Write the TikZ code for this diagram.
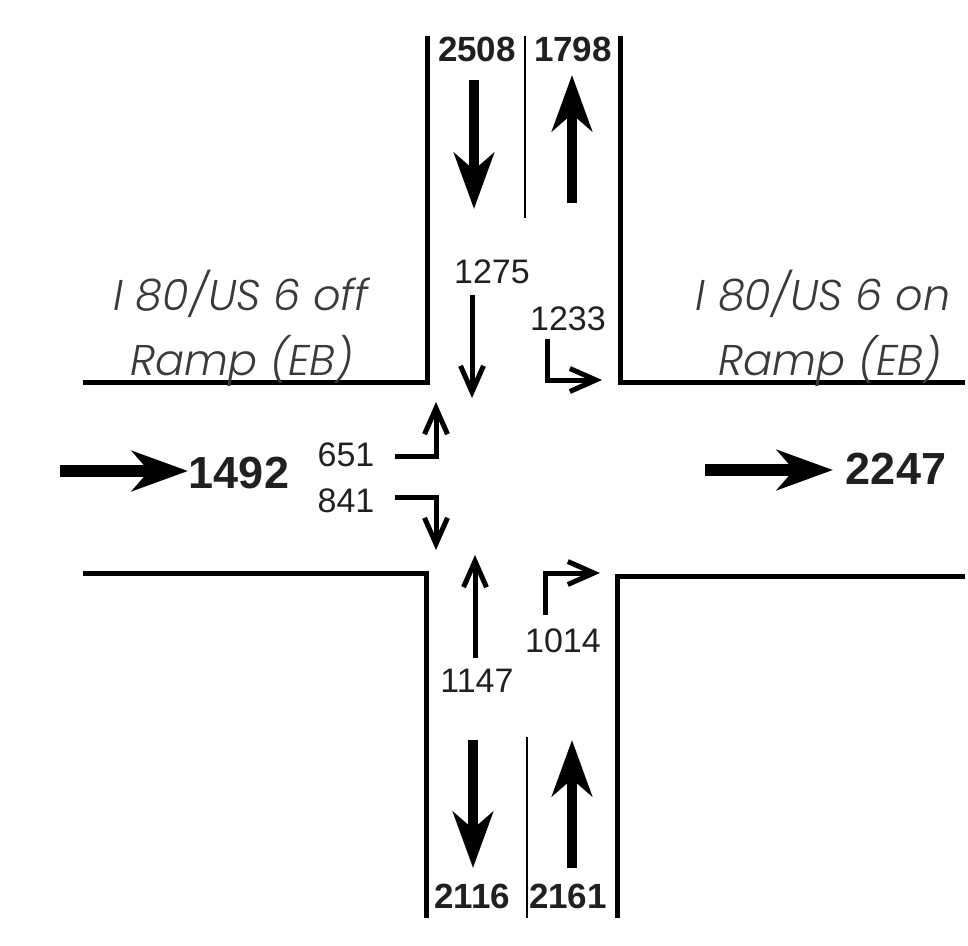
\documentclass[tikz,border=0pt]{standalone}
\usepackage{fontspec}
\setmainfont{Liberation Sans}
\newfontfamily\rampfont{Poppins Light Italic}
\usepackage{tikz}
\usetikzlibrary{arrows.meta}
\definecolor{inkblack}{HTML}{231F20}
\definecolor{rampgray}{HTML}{3A3A3A}

\begin{document}
\begin{tikzpicture}[
  x=1pt, y=-1pt,
  edge/.style={line width=5pt, line join=miter, draw=black},
  divider/.style={line width=2.2pt, draw=black},
  bigflow/.style={line width=10pt, -{Stealth[length=56pt, width=40pt, inset=17pt]}},
  bighflow/.style={bigflow, line width=11.5pt},
  turnflow/.style={line width=5pt, line join=miter, -{Straight Barb[length=26pt, width=23pt]}},
  vol/.style={anchor=base, inner sep=0pt, text=inkblack, font=\fontsize{34}{36}\selectfont},
  legvol/.style={anchor=base, inner sep=0pt, text=inkblack, font=\fontsize{35}{38}\selectfont\bfseries},
  bigvol/.style={anchor=base, inner sep=0pt, text=inkblack, font=\fontsize{45}{48}\selectfont\bfseries},
  ramp/.style={anchor=base, inner sep=0pt, text=rampgray, font=\rampfont\fontsize{43}{50}\selectfont}
]
\useasboundingbox (0,0) rectangle (968,945);

% road edges
\draw[edge] (83,382) -- (427,382) -- (427,36);
\draw[edge] (620,36) -- (620,382) -- (965,382);
\draw[edge] (83,573) -- (426,573) -- (426,918);
\draw[edge] (965,576) -- (617,576) -- (617,918);
\draw[divider] (525,36) -- (525,218);
\draw[divider] (527,737) -- (527,918);

% ramp names
\node[ramp] (offa) at (241,310) {I 80/US 6 off};
\node[ramp] (offb) at (242,375) {Ramp (EB)};
\node[ramp] (ona) at (823,310) {I 80/US 6 on};
\node[ramp] (onb) at (830,375) {Ramp (EB)};

% leg totals
\node[legvol] (ntotin) at (477,61) {2508};
\node[legvol] (ntotout) at (573,61) {1798};
\node[legvol] (stotout) at (472,908) {2116};
\node[legvol] (stotin) at (568,908) {2161};
\node[bigvol] (wtot) at (239,488) {1492};
\node[bigvol] (etot) at (896,484) {2247};

% turn volumes
\node[vol] (nthru) at (492,283) {1275};
\node[vol] (nleft) at (568,330) {1233};
\node[vol] (wleft) at (346,466) {651};
\node[vol] (wright) at (346,512) {841};
\node[vol] (sthru) at (477,692) {1147};
\node[vol] (sright) at (563,652) {1014};

% arrow ends
\coordinate (ninA) at (474,80);   \coordinate (ninB) at (474,209);
\coordinate (noutA) at (572,203); \coordinate (noutB) at (572,75);
\coordinate (soutA) at (473,740); \coordinate (soutB) at (473,868);
\coordinate (sinA) at (572,868);  \coordinate (sinB) at (572,740);
\coordinate (winA) at (60,471);   \coordinate (winB) at (188,471);
\coordinate (eoutA) at (705,470); \coordinate (eoutB) at (833,470);

\coordinate (nthruA) at (472,295);  \coordinate (nthruB) at (472,398);
\coordinate (nleftA) at (547,339);  \coordinate (nleftB) at (602,380);
\coordinate (wleftA) at (395,456);  \coordinate (wleftB) at (436,402);
\coordinate (wrightA) at (395,497); \coordinate (wrightB) at (436,550);
\coordinate (sthruA) at (475,658);  \coordinate (sthruB) at (475,555);
\coordinate (srightA) at (545,615); \coordinate (srightB) at (600,573);

\draw[bigflow] (ninA) -- (ninB);
\draw[bigflow] (noutA) -- (noutB);
\draw[bigflow] (soutA) -- (soutB);
\draw[bigflow] (sinA) -- (sinB);
\draw[bighflow] (winA) -- (winB);
\draw[bighflow] (eoutA) -- (eoutB);

\draw[turnflow] (nthruA) -- (nthruB);
\draw[turnflow] (nleftA) |- (nleftB);
\draw[turnflow] (wleftA) -| (wleftB);
\draw[turnflow] (wrightA) -| (wrightB);
\draw[turnflow] (sthruA) -- (sthruB);
\draw[turnflow] (srightA) |- (srightB);

\end{tikzpicture}
\end{document}
